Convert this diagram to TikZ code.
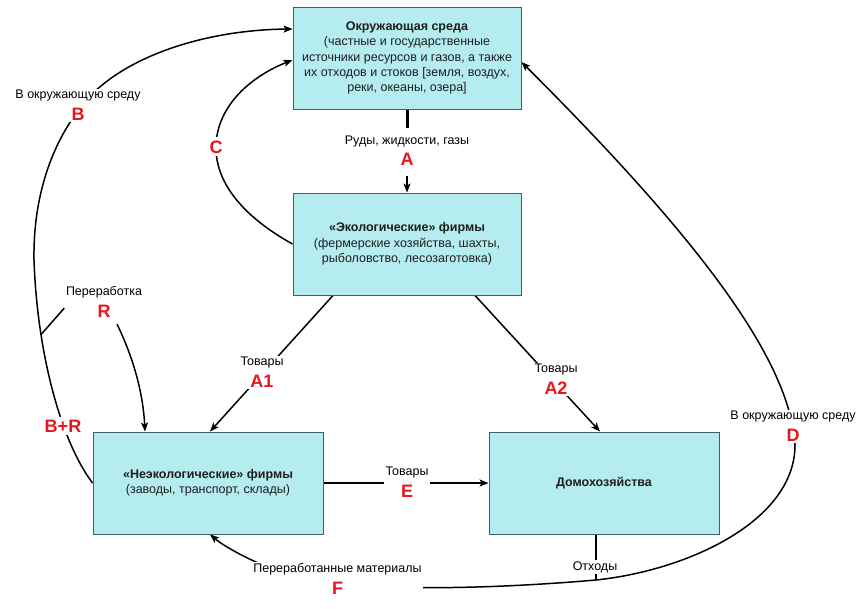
\documentclass[tikz,border=0pt]{standalone}
\usepackage{fontspec}
\setmainfont{Liberation Sans}
\usetikzlibrary{arrows.meta,backgrounds,calc}
\definecolor{boxfill}{HTML}{B4ECF0}
\definecolor{boxline}{HTML}{3F5F6B}
\definecolor{boxtext}{HTML}{1E1E1E}
\definecolor{letred}{HTML}{E5161F}
\newcommand\redlet[1]{{\color{letred}\fontsize{18}{18}\selectfont\bfseries #1}}
\begin{document}
\begin{tikzpicture}[x=1pt,y=-1pt,
  >={Stealth[length=9pt,width=7pt,inset=2pt]},
  box/.style={draw=boxline,line width=0.9pt,fill=boxfill,minimum width=228pt,minimum height=102pt,
    align=center,inner sep=0pt,font=\fontsize{12.5}{15.3}\selectfont,text=boxtext},
  lbl/.style={fill=white,inner sep=1.5pt,align=center,font=\fontsize{12.5}{21.5}\selectfont},
  lblone/.style={fill=white,inner sep=1.5pt,anchor=base,font=\fontsize{12.5}{15}\selectfont},
  letter/.style={fill=white,inner sep=3pt,anchor=base,text=letred,font=\fontsize{18}{18}\selectfont\bfseries},
  conn/.style={line width=1.5pt,draw=black},
  thickconn/.style={line width=3pt,draw=black},
  wasteconn/.style={line width=2.4pt,draw=black}]
\useasboundingbox (0,0) rectangle (864,608);
% boxes
\node[box] (env) at (407,58) {\textbf{Окружающая среда}\\(частные и государственные\\источники ресурсов и газов, а также\\их отходов и стоков [земля, воздух,\\реки, океаны, озера]};
\node[box] (eco) at (407,244) {\textbf{«Экологические» фирмы}\\(фермерские хозяйства, шахты,\\рыболовство, лесозаготовка)};
\node[box,minimum width=230pt] (noneco) at (208,483) {\textbf{«Неэкологические» фирмы}\\(заводы, транспорт, склады)};
\node[box,minimum width=230pt] (house) at (604,483) {\textbf{Домохозяйства}};
% labels
\node[lbl] (labA) at (407,150.6) {Руды, жидкости, газы\\\redlet{A}};
\node[lbl] (labB) at (78,105.1) {В окружающую среду\\\redlet{B}};
\node[lbl] (labR) at (104,302.1) {Переработка\\\redlet{R}};
\node[lbl] (labAone) at (262,372.1) {Товары\\\redlet{A1}};
\node[lbl] (labAtwo) at (556,379.1) {Товары\\\redlet{A2}};
\node[lbl] (labE) at (407,482.1) {Товары\\\redlet{E}};
\node[lbl] (labF) at (337.5,579.1) {Переработанные материалы\\\redlet{F}};
\node[lbl] (labD) at (793,426.1) {В окружающую среду\\\redlet{D}};
\node[lblone] (labW) at (595,570) {Отходы};
\node[letter] (labC) at (216,153) {C};
\node[letter] (labBR) at (63,432) {B+R};
\coordinate (junc) at (596,580);
% connectors
\begin{scope}[on background layer]
\fill[white] (0,0) rectangle (864,608);
% A
\draw[thickconn] (env.south) -- ([yshift=6]labA.north);
\draw[conn,->] ([yshift=-9]labA.south) -- (eco.north);
% C
\draw[conn,->] (eco.west) .. controls (240,215) and (215,180) .. (216,146)
   .. controls (217,105) and (252,76) .. ([yshift=-2]env.west);
% B+R and B
\draw[conn,->] (noneco.west) .. controls (60,440) and (37,350) .. (34,260) coordinate[pos=0.72] (brR)
   .. controls (33,200) and (50,150) .. (75,115)
   .. controls (110,60) and (200,30) .. ([yshift=29]env.west);
% R
\draw[conn] (brR) -- ([yshift=-6]labR.west);
\draw[conn,->] ([xshift=13,yshift=-5]labR.south) .. controls (133,357) and (143,392) .. ([xshift=-63]noneco.north);
% A1, A2
\draw[conn,->] ([xshift=-74]eco.south) -- ([xshift=2]noneco.north);
\draw[conn,->] ([xshift=68]eco.south) -- ([xshift=-4]house.north);
% E
\draw[conn,->] (noneco.east) -- (house.west);
% waste
\draw[wasteconn] ([xshift=-8]house.south) -- (junc);
% D
\draw[conn,->] (junc) .. controls (690,570) and (795,520) .. (795,445)
   .. controls (790,360) and (700,240) .. ([yshift=-4]env.east);
% F
\draw[conn,->] (junc) .. controls (480,590) and (350,592) .. (290,575)
   .. controls (260,566) and (226,548) .. ([xshift=2]noneco.south);
\end{scope}
\end{tikzpicture}
\end{document}
